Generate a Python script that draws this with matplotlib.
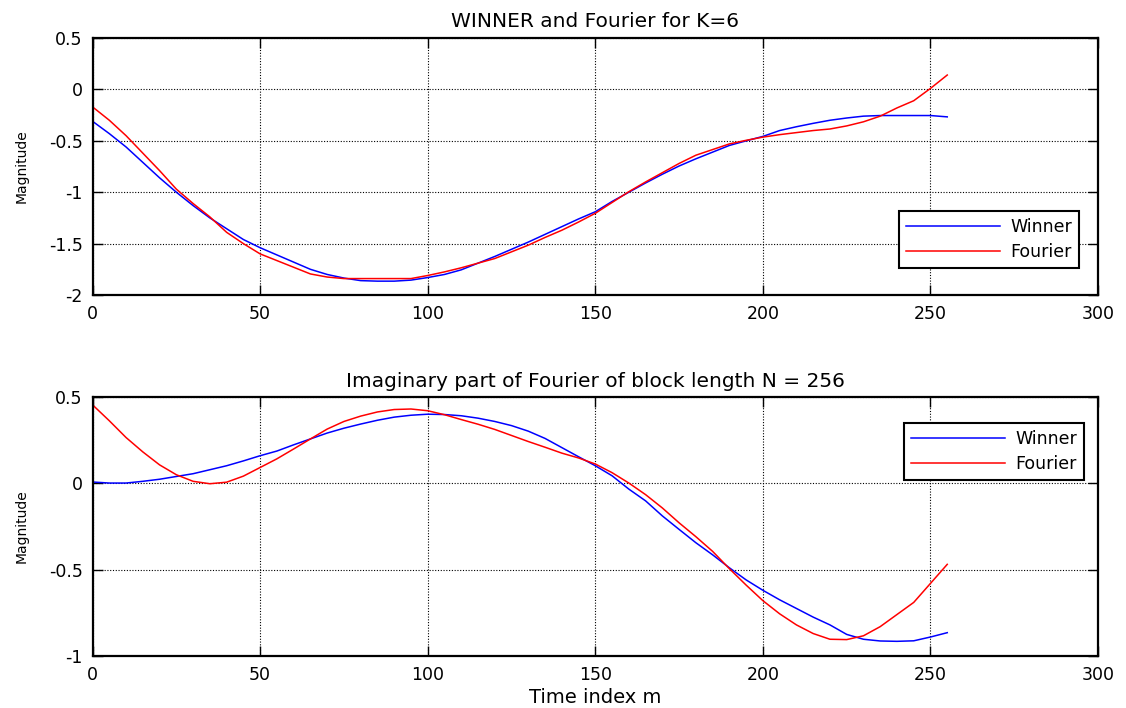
import matplotlib
matplotlib.use("Agg")
import matplotlib.pyplot as plt

# time index m (sampled every 5 points, 0..255)
m = list(range(0, 256, 5))

# top panel: WINNER vs Fourier for K=6
winner_top = [-0.31, -0.43, -0.56, -0.71, -0.86, -1.00, -1.13, -1.25, -1.355, -1.46,
              -1.54, -1.61, -1.68, -1.75, -1.80, -1.835, -1.86, -1.865, -1.865, -1.855,
              -1.83, -1.80, -1.755, -1.69, -1.625, -1.555, -1.485, -1.41, -1.335, -1.26,
              -1.19, -1.09, -1.00, -0.91, -0.825, -0.745, -0.675, -0.61, -0.545, -0.50,
              -0.457, -0.40, -0.363, -0.33, -0.30, -0.278, -0.26, -0.254, -0.254, -0.254,
              -0.254, -0.267]
fourier_top = [-0.17, -0.30, -0.45, -0.62, -0.79, -0.97, -1.11, -1.24, -1.39, -1.50,
               -1.60, -1.665, -1.73, -1.795, -1.825, -1.84, -1.84, -1.84, -1.84, -1.84,
               -1.81, -1.775, -1.735, -1.69, -1.645, -1.58, -1.515, -1.44, -1.37, -1.29,
               -1.205, -1.10, -0.995, -0.90, -0.81, -0.72, -0.64, -0.585, -0.53, -0.495,
               -0.464, -0.44, -0.42, -0.40, -0.385, -0.355, -0.315, -0.26, -0.18, -0.11,
               0.01, 0.14]

# bottom panel: imaginary part, N = 256
winner_bot = [0.006, 0.0, 0.0, 0.01, 0.022, 0.038, 0.054, 0.077, 0.10, 0.128,
              0.158, 0.185, 0.221, 0.255, 0.289, 0.317, 0.341, 0.363, 0.381, 0.392,
              0.398, 0.396, 0.389, 0.375, 0.356, 0.332, 0.30, 0.258, 0.205, 0.152,
              0.10, 0.042, -0.035, -0.103, -0.19, -0.268, -0.345, -0.415, -0.49, -0.56,
              -0.62, -0.675, -0.725, -0.775, -0.82, -0.875, -0.903, -0.913, -0.915, -0.912,
              -0.89, -0.865]
fourier_bot = [0.452, 0.36, 0.263, 0.18, 0.105, 0.048, 0.01, -0.004, 0.005, 0.04,
               0.09, 0.14, 0.197, 0.255, 0.312, 0.356, 0.387, 0.411, 0.425, 0.428,
               0.418, 0.395, 0.367, 0.34, 0.31, 0.275, 0.24, 0.207, 0.173, 0.145,
               0.11, 0.06, 0.0, -0.067, -0.144, -0.23, -0.31, -0.395, -0.495, -0.59,
               -0.68, -0.756, -0.82, -0.87, -0.903, -0.905, -0.883, -0.83, -0.76, -0.69,
               -0.58, -0.47]

xticks = [0, 50, 100, 150, 200, 250, 300]
yticks_top = [-2, -1.5, -1, -0.5, 0, 0.5]
yticks_bot = [-1, -0.5, 0, 0.5]

plt.rcParams['font.family'] = ['DejaVu Sans']

fig = plt.figure(figsize=(11.26, 7.08), dpi=100)
ax1 = fig.add_axes([0.0822, 0.5833, 0.893, 0.363])
ax2 = fig.add_axes([0.0822, 0.0734, 0.893, 0.3665])


def style(ax, yticks, ylim):
    ax.set_xlim(0, 300)
    ax.set_ylim(*ylim)
    ax.set_xticks(xticks)
    ax.set_xticklabels([str(t) for t in xticks])
    ax.set_yticks(yticks)
    ax.set_yticklabels(['%g' % t for t in yticks])
    ax.grid(True, color='black', linestyle=(0, (1, 1.5)), linewidth=0.8)
    ax.tick_params(direction='in', length=7, width=1, top=True, right=True,
                   labelsize=12.5, pad=7)
    for s in ax.spines.values():
        s.set_linewidth(1.6)
    ax.set_ylabel('Magnitude', fontsize=10)
    ax.yaxis.set_label_coords(-0.064, 0.5)


def add_legend(ax, **kw):
    leg = ax.legend(fontsize=12.5, fancybox=False, framealpha=1, edgecolor='black',
                    handlelength=5.4, handletextpad=0.6, labelspacing=0.4,
                    borderpad=0.4, borderaxespad=0, **kw)
    leg.get_frame().set_linewidth(1.5)


ax1.plot(m, winner_top, color='blue', lw=1.1, label='Winner')
ax1.plot(m, fourier_top, color='red', lw=1.1, label='Fourier')
style(ax1, yticks_top, (-2, 0.5))
ax1.set_title('WINNER and Fourier for K=6', fontsize=14.5, pad=8)
add_legend(ax1, loc='lower right', bbox_to_anchor=(0.981, 0.104))

ax2.plot(m, winner_bot, color='blue', lw=1.1, label='Winner')
ax2.plot(m, fourier_bot, color='red', lw=1.1, label='Fourier')
style(ax2, yticks_bot, (-1, 0.5))
ax2.set_title('Imaginary part of Fourier of block length N = 256', fontsize=14.5, pad=7)
ax2.set_xlabel('Time index m', fontsize=14, labelpad=3)
add_legend(ax2, loc='upper right', bbox_to_anchor=(0.986, 0.897))

fig.savefig('out.png', dpi=100)
